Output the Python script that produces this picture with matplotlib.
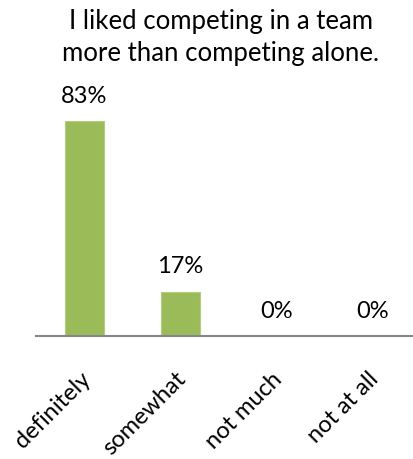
import matplotlib
matplotlib.use("Agg")
import matplotlib.pyplot as plt
from matplotlib.transforms import offset_copy, ScaledTranslation

categories = ["definitely", "somewhat", "not much", "not at all"]
values = [83, 17, 0, 0]
labels = ["83%", "17%", "0%", "0%"]
title = "I liked competing in a team\nmore than competing alone."

plt.rcParams['font.family'] = ['Lato', 'DejaVu Sans']

W, H = 414, 459
fig = plt.figure(figsize=(W/100, H/100), dpi=100)
left_px, right_px, base_px = 36.5, 414, 336
ax = fig.add_axes([left_px/W, (H-base_px)/H, (right_px-left_px)/W, base_px/H])
slot = 96.0
ax.set_xlim(-0.5, -0.5 + (right_px-left_px)/slot)
ax.set_ylim(0, base_px/2.59)

x = list(range(len(categories)))
ax.bar(x, values, width=0.41, color='#9BBB59', edgecolor='#B3CC80', linewidth=0.8, zorder=2)

for xi, v, lab in zip(x, values, labels):
    t = offset_copy(ax.transData, fig=fig, x=0, y=25, units='dots')
    ax.text(xi, v, lab, transform=t, ha='center', va='center', fontsize=17, color='black')

for s in ['top', 'right', 'left']:
    ax.spines[s].set_visible(False)
ax.spines['bottom'].set_color('#868686')
ax.spines['bottom'].set_linewidth(1.5)
ax.set_yticks([])
ax.set_xticks(x)
ax.set_xticklabels(categories, rotation=45, ha='right', rotation_mode='anchor', fontsize=17)
ax.tick_params(axis='x', length=0, pad=22)
shift = ScaledTranslation(-5/100, -2/100, fig.dpi_scale_trans)
for lbl in ax.get_xticklabels():
    lbl.set_transform(lbl.get_transform() + shift)

fig.text(221/W, 1 - 38/H, title, ha='center', va='center', fontsize=18.5, linespacing=1.35)

fig.savefig('out.png', dpi=100)
